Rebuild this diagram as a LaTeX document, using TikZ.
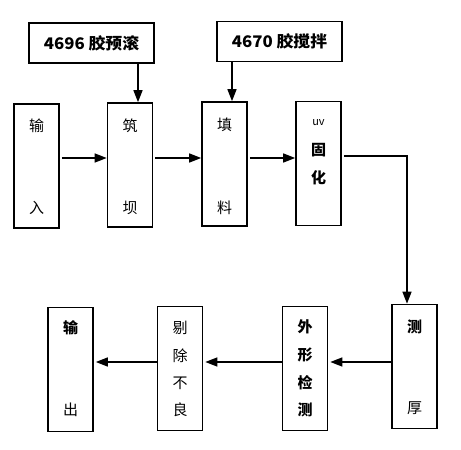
\documentclass[tikz,border=0pt]{standalone}
\usepackage{fontspec}
\usetikzlibrary{arrows.meta}
\newfontfamily\cjk{Noto Sans CJK SC}
\begin{document}
\begin{tikzpicture}[x=1pt,y=-1pt,
  box/.style={draw,line width=1.6pt,minimum width=45pt,minimum height=124pt,inner sep=0pt},
  topbox/.style={draw,line width=1.6pt,minimum width=125pt,minimum height=40pt,inner sep=0pt,font=\cjk\bfseries\fontsize{16}{16}\selectfont},
  ch/.style={inner sep=0pt,font=\cjk\fontsize{15}{15}\selectfont},
  chb/.style={inner sep=0pt,font=\cjk\bfseries\fontsize{15}{15}\selectfont},
  arr/.style={line width=1.4pt,-{Triangle[length=12pt,width=9pt]}}]
\useasboundingbox (0,0) rectangle (461,450);
% top boxes
\node[topbox] (t1) at (91.5,43) {\scalebox{1.05}[1]{4696 胶预滚}};
\node[topbox] (t2) at (279.5,41.5) {\scalebox{1.05}[1]{4670 胶搅拌}};
% row 1
\node[box] (b1) at (36.5,166) {};
\node[box] (b2) at (130,165) {};
\node[box] (b3) at (224.5,164) {};
\node[box] (b4) at (318.5,163.5) {};
% row 2
\node[box] (c1) at (414.5,366.5) {};
\node[box] (c2) at (305,368.5) {};
\node[box] (c3) at (180,368.5) {};
\node[box] (c4) at (70.5,369.5) {};
% texts
\node[ch] (b1a) at (36.5,126) {输};
\node[ch] (b1b) at (36.5,208) {入};
\node[ch] (b2a) at (130,126) {筑};
\node[ch] (b2b) at (130,208) {坝};
\node[ch] (b3a) at (224.5,125) {填};
\node[ch] (b3b) at (224.5,208) {料};
\node[ch,font=\cjk\fontsize{11}{11}\selectfont] (b4a) at (318.5,123) {uv};
\node[chb] (b4b) at (318.5,150) {固};
\node[chb] (b4c) at (318.5,178) {化};
\node[chb] (c1a) at (414.5,327) {测};
\node[ch] (c1b) at (414.5,408) {厚};
\node[chb] (c2a) at (305,327) {外};
\node[chb] (c2b) at (305,355) {形};
\node[chb] (c2c) at (305,383) {检};
\node[chb] (c2d) at (305,410) {测};
\node[ch] (c3a) at (180,328) {剔};
\node[ch] (c3b) at (180,356) {除};
\node[ch] (c3c) at (180,383) {不};
\node[ch] (c3d) at (180,410) {良};
\node[chb] (c4a) at (70.5,328) {输};
\node[ch] (c4b) at (70.5,410) {出};
% helper coordinates
\coordinate (r1) at (0,158);
\coordinate (r2) at (0,362);
\coordinate (x1) at (138,0);
\coordinate (x2) at (232,0);
\coordinate (turn) at (407,156);
% connectors
\draw[arr] (t1.south -| x1) -- (b2.north -| x1);
\draw[arr] (t2.south -| x2) -- (b3.north -| x2);
\draw[arr] ([xshift=2pt]b1.east |- r1) -- (b2.west |- r1);
\draw[arr] ([xshift=2pt]b2.east |- r1) -- (b3.west |- r1);
\draw[arr] ([xshift=2pt]b3.east |- r1) -- (b4.west |- r1);
\draw[arr] ([xshift=2pt]b4.east |- turn) -- (turn) -- (turn |- c1.north);
\draw[arr] (c1.west |- r2) -- ([xshift=2pt]c2.east |- r2);
\draw[arr] (c2.west |- r2) -- ([xshift=2pt]c3.east |- r2);
\draw[arr] (c3.west |- r2) -- ([xshift=2pt]c4.east |- r2);
\end{tikzpicture}
\end{document}
